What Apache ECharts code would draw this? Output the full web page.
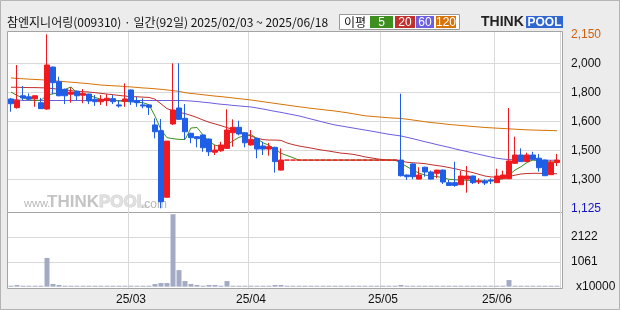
<!DOCTYPE html>
<html><head><meta charset="utf-8">
<script src="https://cdn.jsdelivr.net/npm/echarts@6/dist/echarts.min.js"></script>
<style>html,body{margin:0;padding:0;background:#ececec}#c{width:620px;height:310px}</style>
</head><body><div id="c"></div>
<script>
// ---- data ----
const dates = [
'2025/02/03','2025/02/04','2025/02/05','2025/02/06','2025/02/07','2025/02/10','2025/02/11','2025/02/12','2025/02/13','2025/02/14',
'2025/02/17','2025/02/18','2025/02/19','2025/02/20','2025/02/21','2025/02/24','2025/02/25','2025/02/26','2025/02/27','2025/02/28',
'2025/03/04','2025/03/05','2025/03/06','2025/03/07','2025/03/10','2025/03/11','2025/03/12','2025/03/13','2025/03/14','2025/03/17',
'2025/03/18','2025/03/19','2025/03/20','2025/03/21','2025/03/24','2025/03/25','2025/03/26','2025/03/27','2025/03/28','2025/03/31',
'2025/04/01','2025/04/02','2025/04/03','2025/04/04','2025/04/07','2025/04/08','2025/04/09','2025/04/10','2025/04/11','2025/04/14',
'2025/04/15','2025/04/16','2025/04/17','2025/04/18','2025/04/21','2025/04/22','2025/04/23','2025/04/24','2025/04/25','2025/04/28',
'2025/04/29','2025/04/30','2025/05/02','2025/05/07','2025/05/08','2025/05/09','2025/05/12','2025/05/13','2025/05/14','2025/05/15',
'2025/05/16','2025/05/19','2025/05/20','2025/05/21','2025/05/22','2025/05/23','2025/05/26','2025/05/27','2025/05/28','2025/05/29',
'2025/05/30','2025/06/02','2025/06/04','2025/06/05','2025/06/09','2025/06/10','2025/06/11','2025/06/12','2025/06/13','2025/06/16',
'2025/06/17','2025/06/18'];
const opens = [1769,1718,1788,1782,1770,1747,1710,1957,1871,1826,1797,1814,1791,1798,1767,1753,1759,1771,1734,1755,
1822,1759,1734,1734,1616,1582,1190,1622,1716,1655,1567,1547,1557,1533,1455,1464,1478,1570,1602,1570,
1498,1537,1492,1474,1484,1350,1409,1409,1409,1409,1409,1409,1409,1409,1409,1409,1409,1409,1409,1409,
1409,1409,1409,1409,1409,1409,1321,1386,1297,1367,1339,1331,1350,1276,1276,1264,1297,1315,1280,1286,
1292,1276,1299,1299,1390,1439,1400,1439,1420,1409,1323,1394];
const closes = [1741,1761,1775,1769,1788,1712,1969,1865,1788,1788,1810,1788,1802,1757,1753,1767,1773,1753,1728,1769,
1753,1747,1728,1720,1576,1164,1521,1704,1649,1576,1541,1535,1482,1458,1468,1498,1586,1602,1563,1511,
1531,1474,1474,1488,1400,1409,1409,1409,1409,1409,1409,1409,1409,1409,1409,1409,1409,1409,1409,1409,
1409,1409,1409,1409,1409,1317,1311,1311,1321,1339,1297,1350,1280,1260,1260,1315,1315,1276,1286,1274,
1286,1315,1321,1404,1439,1400,1439,1414,1364,1317,1396,1409];
const lows = [1694,1712,1763,1763,1723,1712,1705,1797,1785,1739,1747,1763,1744,1739,1728,1734,1728,1739,1718,1723,
1734,1723,1714,1675,1537,1125,1190,1616,1645,1531,1508,1484,1458,1433,1439,1458,1475,1488,1555,1484,
1494,1420,1439,1435,1335,1348,1409,1409,1409,1409,1409,1409,1409,1409,1409,1409,1409,1409,1409,1409,
1409,1409,1409,1409,1409,1312,1292,1297,1295,1311,1295,1302,1268,1258,1252,1262,1217,1268,1268,1262,
1268,1274,1297,1297,1388,1398,1398,1412,1341,1315,1321,1374];
const highs = [1775,1969,1845,1802,1790,1775,2150,1960,1900,1830,1838,1818,1828,1800,1792,1792,1797,1792,1759,1861,
1825,1782,1773,1736,1655,1651,1521,1979,1979,1739,1570,1550,1560,1536,1498,1517,1708,1649,1641,1574,
1586,1540,1517,1510,1488,1478,1409,1409,1409,1409,1409,1409,1409,1409,1409,1409,1409,1409,1409,1409,
1409,1409,1409,1409,1409,1800,1324,1390,1367,1370,1347,1352,1353,1292,1399,1345,1374,1318,1302,1296,
1302,1358,1347,1716,1547,1478,1453,1458,1445,1412,1409,1445];
const volumes = [20,70,18,15,22,18,1231,115,72,20,18,15,16,18,14,12,15,13,12,20,
22,15,14,18,115,157,157,3100,709,242,115,72,25,72,72,25,242,30,22,20,
18,20,15,14,72,72,0,0,0,0,0,0,0,0,0,0,0,0,0,0,
0,0,0,0,0,72,25,20,18,15,16,14,18,15,20,16,14,15,12,14,
13,18,20,284,40,25,22,20,18,22,18,20];
const ma5 = [1810,1790,1775,1764,1760,1762,1790,1800,1802,1825,1840,1805,1797,1790,1778,1767,1765,1762,1757,1755,
1753,1750,1747,1735,1668,1588,1541,1535,1531,1530,1598,1601,1557,1518,1497,1488,1498,1522,1543,1552,
1559,1536,1511,1496,1473,1449,1436,1423,1409,1409,1409,1409,1409,1409,1409,1409,1409,1409,1409,1409,
1409,1409,1409,1409,1409,1391,1370,1350,1332,1321,1315,1312,1305,1296,1293,1292,1290,1288,1287,1286,
1286,1290,1300,1321,1350,1370,1395,1410,1405,1400,1398,1399];
const ma20 = [1838,1838,1837,1836,1836,1835,1834,1830,1826,1822,1818,1815,1812,1810,1806,1802,1798,1794,1790,1786,
1783,1782,1780,1778,1768,1740,1712,1700,1690,1683,1672,1660,1645,1632,1622,1612,1600,1590,1578,1563,
1550,1538,1530,1527,1527,1525,1510,1500,1492,1486,1480,1473,1467,1462,1456,1450,1447,1443,1436,1428,
1422,1416,1412,1409,1409,1404,1396,1393,1391,1388,1382,1377,1372,1365,1358,1350,1343,1335,1325,1315,
1310,1308,1309,1312,1320,1327,1330,1331,1331,1331,1331,1328];
const ma60 = [1766,1764,1760,1760,1760,1760,1760,1760,1760,1760,1760,1760,1760,1760,1760,1760,1760,1760,1760,1760,
1760,1760,1760,1760,1760,1760,1760,1760,1760,1759,1757,1754,1750,1747,1742,1738,1735,1731,1728,1725,
1722,1716,1710,1703,1696,1690,1683,1676,1669,1660,1651,1642,1633,1624,1616,1610,1604,1598,1592,1586,
1580,1574,1567,1561,1556,1551,1543,1535,1526,1517,1509,1500,1492,1484,1475,1467,1459,1451,1443,1435,
1427,1420,1415,1412,1411,1410,1410,1410,1409,1408,1408,1408];
const ma120 = [1893,1890,1888,1886,1884,1882,1880,1877,1874,1871,1868,1865,1862,1859,1855,1851,1849,1847,1845,1842,
1840,1837,1834,1832,1829,1826,1822,1818,1814,1806,1802,1798,1794,1790,1786,1783,1779,1775,1771,1767,
1763,1758,1753,1748,1743,1738,1733,1728,1723,1719,1714,1710,1706,1702,1698,1693,1688,1682,1676,1670,
1667,1664,1661,1658,1656,1654,1650,1645,1640,1635,1630,1627,1623,1619,1616,1613,1610,1607,1604,1601,
1599,1597,1595,1593,1591,1589,1587,1586,1585,1584,1583,1582];
const priceTickLabels = ['1,125','1,300','1,500','1,600','1,800','2,000','2,150'];
const volumeTickLabels = ['x10000','1061','2122',''];
const maPeriods = ['5','20','60','120'];
const titleText = '참엔지니어링(009310) · 일간(92일) 2025/02/03 ~ 2025/06/18';

// ---- styles ----
const priceMin = 1125, priceMax = 2150, volMax = 3183, volStep = 1061;
const maColors = ['#3d8f1f','#c0302c','#6c5ee0','#d87306'];
const legendBoxColors = ['#3d8f1f','#c0302c','#6c5ee0','#d87306'];
const UP = '#f01a1e', DOWN = '#1f5ee6', GRID = '#d9d9d9', FRAME = '#a4a4a4';
const isMonthStart = (i) => i > 0 && dates[i].slice(5,7) !== dates[i-1].slice(5,7);

const chart = echarts.init(document.getElementById('c'), null, {renderer:'canvas'});
const hidden = {show:false};
const catAxis = (gi, extra) => Object.assign({type:'category', gridIndex:gi, data:dates, boundaryGap:true,
  axisLine:{show:false}, axisTick:{show:false}, axisLabel:{show:false}, splitLine:{show:false}}, extra||{});

const legendX = [370,395,416,436], legendW = [23,20,18,20];
const graphic = [
  {type:'rect', shape:{x:0.5,y:0.5,width:619,height:309}, style:{fill:'#ececec', stroke:'#b4b4b4'}, z:-20},
  {type:'rect', shape:{x:7.5,y:31.5,width:555,height:181}, style:{fill:'#fff', stroke:FRAME}, z:-10},
  {type:'rect', shape:{x:7.5,y:212.5,width:555,height:76}, style:{fill:'#fff', stroke:FRAME}, z:-10},
  {type:'text', x:24, y:204, style:{text:'www.', font:'11px "Liberation Sans"', fill:'#b8b8b8', verticalAlign:'middle'}, z:-5},
  {type:'text', x:47, y:202, style:{text:'THINK', font:'bold 17px "Liberation Sans"', fill:'#c4c4c4', verticalAlign:'middle'}, z:-5},
  {type:'text', x:99, y:202, style:{text:'POOL', font:'bold 17px "Liberation Sans"', fill:'#e0e0e0', stroke:'#cfcfcf', lineWidth:1, verticalAlign:'middle'}, z:-5},
  {type:'text', x:141, y:205, style:{text:'.com', font:'12px "Liberation Sans"', fill:'#b8b8b8', verticalAlign:'middle'}, z:-5},
  {type:'text', x:7, y:22, style:{text:titleText, font:'12px "Noto Sans CJK KR"', fill:'#111', verticalAlign:'middle'}},
  {type:'rect', shape:{x:339.5,y:14.5,width:120,height:15}, style:{fill:'#fff', stroke:'#9a9a9a'}},
  {type:'text', x:344, y:22, style:{text:'이평', font:'12px "Noto Sans CJK KR"', fill:'#111', verticalAlign:'middle'}},
  {type:'text', x:481, y:22, style:{text:'THINK', font:'bold 14px "Liberation Sans"', fill:'#222', verticalAlign:'middle'}},
  {type:'rect', shape:{x:526,y:16,width:37,height:12}, style:{fill:'#2f66d0'}},
  {type:'text', x:544.5, y:22.5, style:{text:'POOL', font:'bold 12px "Liberation Sans"', fill:'#fff', align:'center', verticalAlign:'middle'}}
];
maPeriods.forEach((p,k) => {
  graphic.push({type:'rect', shape:{x:legendX[k],y:16,width:legendW[k],height:12}, style:{fill:legendBoxColors[k]}});
  graphic.push({type:'text', x:legendX[k]+legendW[k]/2, y:22.5, style:{text:p, font:'12px "Liberation Sans"', fill:'#fff', align:'center', verticalAlign:'middle'}});
});

const lineSeries = [ma120, ma60, ma20, ma5].map((d,k) => ({
  type:'line', xAxisIndex:1, yAxisIndex:1, data:d, showSymbol:false, symbol:'none',
  lineStyle:{width:1, color:maColors[3-k]}, z:3, silent:true
}));

chart.setOption({
  animation:false,
  backgroundColor:'#ececec',
  graphic: graphic,
  grid:[
    {left:8, top:32, width:552, height:180},
    {left:8, top:34.3, width:552, height:174},
    {left:8, top:212, width:552, height:76},
    {left:8, top:212.3, width:552, height:74.4}
  ],
  xAxis:[
    catAxis(0, {splitLine:{show:true, interval:(i)=>isMonthStart(i), lineStyle:{color:GRID, width:1}}}),
    catAxis(1, {show:false}),
    catAxis(2, {splitLine:{show:true, interval:(i)=>isMonthStart(i), lineStyle:{color:GRID, width:1}},
      axisLabel:{show:true, interval:(i)=>isMonthStart(i), formatter:(v)=>v.slice(2,7), margin:6,
        color:'#111', fontSize:12, fontFamily:'"Liberation Sans"'}}),
    catAxis(3, {show:false})
  ],
  yAxis:[
    {type:'value', gridIndex:0, min:0, max:1, show:false},
    {type:'value', gridIndex:1, min:priceMin, max:priceMax, show:false},
    {type:'value', gridIndex:1, position:'right', min:0, max:priceTickLabels.length-1, interval:1,
      axisLine:{show:false}, axisTick:{show:false},
      splitLine:{show:true, showMinLine:false, showMaxLine:false, lineStyle:{color:GRID, width:1}},
      axisLabel:{margin:11, fontSize:12, fontFamily:'"Liberation Sans"',
        formatter:(v)=>priceTickLabels[Math.round(v)],
        color:(v)=> Math.round(v)===priceTickLabels.length-1 ? '#d0600e' : (Math.round(v)===0 ? '#1414c8' : '#111')}},
    {type:'value', gridIndex:2, min:0, max:1, show:false},
    {type:'value', gridIndex:3, position:'right', min:0, max:volMax, interval:volStep,
      axisLine:{show:false}, axisTick:{show:false},
      splitLine:{show:true, showMinLine:false, showMaxLine:false, lineStyle:{color:GRID, width:1}},
      axisLabel:{margin:11, fontSize:12, fontFamily:'"Liberation Sans"', color:'#111',
        formatter:(v)=>{const t = volumeTickLabels[Math.round(v/volStep)]; return Math.round(v)===0 ? '{u|'+t+'}' : t;},
        rich:{u:{padding:[0,0,0,5], fontSize:12, fontFamily:'"Liberation Sans"', color:'#111'}}}}
  ],
  series:[
    ...lineSeries,
    {type:'candlestick', xAxisIndex:1, yAxisIndex:1, barWidth:5, z:5,
      data: dates.map((d,i)=>[opens[i], closes[i], lows[i], highs[i]]),
      itemStyle:{color:UP, color0:DOWN, borderColor:UP, borderColor0:DOWN, borderColorDoji:UP, borderWidth:1}},
    {type:'bar', xAxisIndex:3, yAxisIndex:4, data:volumes, barWidth:5, barMinHeight:1,
      itemStyle:{color:'#a3abc4'}}
  ]
});
</script></body></html>
